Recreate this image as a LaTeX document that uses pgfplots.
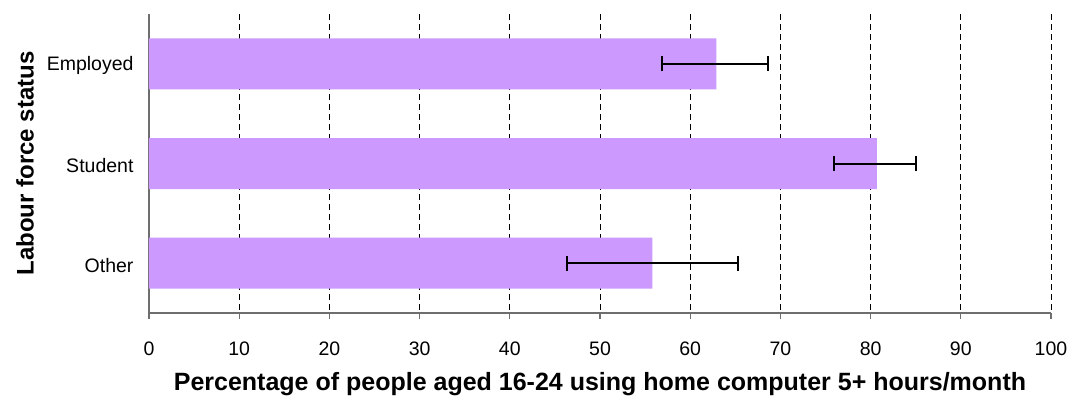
\documentclass[border=0pt]{standalone}
\usepackage{fontspec}
\setmainfont{Liberation Sans}
\usepackage{pgfplots}
\pgfplotsset{compat=1.18}
\definecolor{barlav}{RGB}{204,153,255}
\definecolor{axgray}{RGB}{110,110,110}
\begin{document}
\begin{tikzpicture}
\path[use as bounding box] (-149pt,-88pt) rectangle (926pt,313pt);
\begin{axis}[
  at={(0pt,0pt)}, anchor=south west,
  scale only axis, width=902pt, height=299pt,
  xbar, bar width=51pt,
  xmin=0, xmax=100,
  ymin=-0.5, ymax=2.5, y dir=reverse,
  ytick={0,1,2}, yticklabels={Employed,Student,Other},
  xtick={0,10,...,100},
  axis x line*=bottom, axis y line*=left,
  axis line style={axgray, line width=1.2pt, -},
  x axis line style={-}, y axis line style={-},
  major tick length=6pt,
  xtick style={axgray, line width=1.2pt},
  xtick pos=bottom, tick align=outside,
  ytick style={draw=none},
  xmajorgrids, grid style={black, line width=1pt, dash pattern=on 6pt off 4pt},
  /pgf/number format/assume math mode=true,
  tick label style={font=\fontsize{19.5}{23}\selectfont},
  xticklabel style={yshift=-19pt},
  yticklabel style={xshift=-6pt, yshift=-2pt},
  xlabel={\textbf{Percentage of people aged 16-24 using home computer 5+ hours/month}},
  ylabel={\textbf{Labour force status}},
  xlabel style={font=\fontsize{25}{29}\selectfont, at={(axis description cs:0.5,0)}, anchor=center, yshift=-71pt},
  ylabel style={font=\fontsize{24}{28}\selectfont, at={(axis description cs:-0.13747,0.5)}, anchor=center},
]
\addplot[fill=barlav, draw=none,
  error bars/.cd, x dir=both, x explicit,
  error bar style={black, line width=2pt},
  error mark options={black, line width=2pt, mark size=7.5pt, rotate=90}]
coordinates {
  (62.9,0) += (5.7,0) -= (6.0,0)
  (80.7,1) += (4.3,0) -= (4.8,0)
  (55.8,2) += (9.5,0) -= (9.5,0)
};
\end{axis}
\end{tikzpicture}
\end{document}
